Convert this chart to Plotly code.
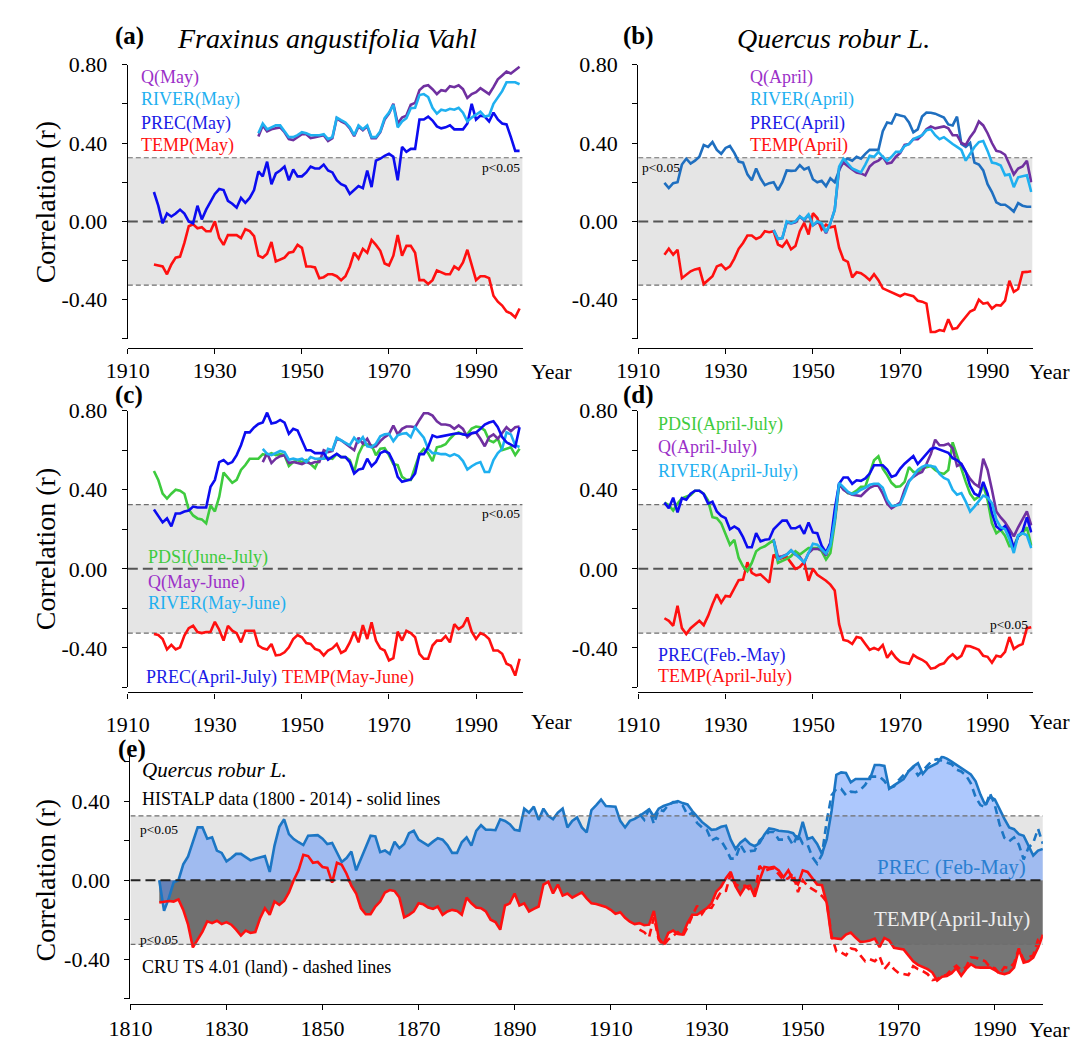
import numpy as np
import plotly.graph_objects as go

# ---------------------------------------------------------------------------
# Moving correlations between ring-width chronologies and climate series
# ---------------------------------------------------------------------------
SIG = 0.325  # |r| threshold for p<0.05

# (a) Fraxinus angustifolia Vahl
years_a = np.arange(1916, 2001)
years_a_flow = np.arange(1940, 2001)
a_prec = [0.15, 0.08, -0.01, 0.04, 0.025, 0.04, 0.06, 0.04, 0.0, -0.01,
          0.08, 0.01, 0.06, 0.10, 0.14, 0.165, 0.16, 0.105, 0.09, 0.07,
          0.12, 0.095, 0.12, 0.16, 0.255, 0.23, 0.305, 0.19, 0.245, 0.26,
          0.28, 0.21, 0.265, 0.23, 0.23, 0.25, 0.28, 0.27, 0.27, 0.29,
          0.26, 0.25, 0.21, 0.19, 0.18, 0.14, 0.16, 0.18, 0.17, 0.26,
          0.175, 0.31, 0.32, 0.335, 0.345, 0.33, 0.21, 0.38, 0.355, 0.37,
          0.37, 0.52, 0.52, 0.535, 0.515, 0.485, 0.475, 0.48, 0.49, 0.47,
          0.47, 0.47, 0.50, 0.60, 0.52, 0.54, 0.535, 0.51, 0.555, 0.52,
          0.50, 0.495, 0.43, 0.36, 0.36]
a_temp = [-0.22, -0.225, -0.23, -0.27, -0.22, -0.185, -0.18, -0.11, -0.025, -0.015,
          -0.035, -0.03, -0.05, -0.05, 0.0, -0.085, -0.12, -0.07, -0.07, -0.07,
          -0.085, -0.04, -0.05, -0.075, -0.175, -0.185, -0.165, -0.105, -0.205, -0.195,
          -0.185, -0.16, -0.155, -0.12, -0.135, -0.23, -0.23, -0.235, -0.29, -0.285,
          -0.27, -0.27, -0.28, -0.30, -0.28, -0.23, -0.16, -0.19, -0.14, -0.16,
          -0.095, -0.12, -0.15, -0.215, -0.225, -0.175, -0.07, -0.175, -0.125, -0.125,
          -0.16, -0.30, -0.30, -0.32, -0.30, -0.25, -0.26, -0.27, -0.27, -0.23,
          -0.245, -0.21, -0.145, -0.22, -0.30, -0.28, -0.28, -0.29, -0.38, -0.41,
          -0.43, -0.46, -0.47, -0.49, -0.445]
a_river = [0.45, 0.50, 0.47, 0.48, 0.49, 0.49, 0.46, 0.43, 0.43, 0.44,
           0.455, 0.45, 0.44, 0.44, 0.44, 0.445, 0.42, 0.43, 0.53, 0.517,
           0.505, 0.48, 0.44, 0.49, 0.47, 0.49, 0.43, 0.43, 0.46, 0.527,
           0.555, 0.595, 0.48, 0.51, 0.527, 0.578, 0.58, 0.645, 0.65, 0.635,
           0.58, 0.55, 0.57, 0.565, 0.575, 0.57, 0.58, 0.555, 0.51, 0.53,
           0.547, 0.56, 0.535, 0.54, 0.60, 0.63, 0.665, 0.71, 0.71, 0.71,
           0.70]
a_q = [0.433, 0.49, 0.46, 0.47, 0.475, 0.48, 0.455, 0.42, 0.415, 0.43,
       0.445, 0.445, 0.425, 0.43, 0.435, 0.44, 0.41, 0.425, 0.527, 0.51,
       0.50, 0.475, 0.435, 0.485, 0.465, 0.485, 0.425, 0.425, 0.455, 0.52,
       0.55, 0.60, 0.50, 0.53, 0.54, 0.595, 0.605, 0.67, 0.69, 0.695,
       0.675, 0.65, 0.67, 0.665, 0.69, 0.685, 0.695, 0.675, 0.63, 0.65,
       0.66, 0.68, 0.665, 0.65, 0.685, 0.725, 0.745, 0.765, 0.755, 0.775,
       0.79]

# (b) Quercus robur L., April
years_b = np.arange(1916, 2001)
years_b_flow = np.arange(1941, 2001)
b_prec = [0.197, 0.17, 0.195, 0.20, 0.29, 0.32, 0.295, 0.31, 0.33, 0.39,
          0.38, 0.405, 0.365, 0.345, 0.375, 0.385, 0.35, 0.305, 0.30, 0.24,
          0.21, 0.27, 0.22, 0.185, 0.195, 0.20, 0.16, 0.20, 0.26, 0.258,
          0.26, 0.287, 0.265, 0.275, 0.215, 0.20, 0.207, 0.18, 0.22, 0.20,
          0.26, 0.31, 0.32, 0.31, 0.33, 0.32, 0.345, 0.365, 0.365, 0.365,
          0.46, 0.505, 0.50, 0.547, 0.54, 0.535, 0.505, 0.455, 0.47, 0.535,
          0.556, 0.555, 0.55, 0.54, 0.53, 0.495, 0.49, 0.535, 0.395, 0.38,
          0.40, 0.30, 0.29, 0.26, 0.19, 0.15, 0.097, 0.085, 0.085, 0.07,
          0.05, 0.093, 0.08, 0.075, 0.075]
b_temp = [-0.17, -0.14, -0.17, -0.145, -0.29, -0.27, -0.255, -0.245, -0.24, -0.32,
          -0.30, -0.28, -0.23, -0.22, -0.245, -0.23, -0.19, -0.14, -0.11, -0.072,
          -0.072, -0.09, -0.08, -0.05, -0.055, -0.05, -0.118, -0.13, -0.10, -0.143,
          -0.126, -0.05, -0.008, -0.067, 0.042, 0.017, -0.042, -0.017, -0.03, -0.025,
          -0.135, -0.195, -0.207, -0.286, -0.26, -0.265, -0.28, -0.30, -0.27, -0.30,
          -0.342, -0.353, -0.362, -0.375, -0.382, -0.37, -0.375, -0.382, -0.405, -0.41,
          -0.42, -0.565, -0.565, -0.555, -0.56, -0.50, -0.55, -0.545, -0.515, -0.485,
          -0.46, -0.45, -0.40, -0.42, -0.415, -0.445, -0.427, -0.43, -0.405, -0.303,
          -0.36, -0.345, -0.26, -0.258, -0.255]
b_river = [-0.045, -0.09, -0.085, 0.0, -0.01, 0.0, 0.025, 0.01, 0.035, -0.02,
           0.0, -0.01, -0.055, -0.01, 0.06, 0.28, 0.32, 0.295, 0.27, 0.26,
           0.25, 0.29, 0.335, 0.33, 0.355, 0.33, 0.31, 0.33, 0.355, 0.355,
           0.385, 0.395, 0.42, 0.43, 0.44, 0.465, 0.47, 0.44, 0.42, 0.43,
           0.41, 0.395, 0.38, 0.365, 0.31, 0.345, 0.38, 0.405, 0.41, 0.36,
           0.30, 0.295, 0.285, 0.235, 0.24, 0.175, 0.225, 0.23, 0.235, 0.15]
b_q = [-0.045, -0.09, -0.085, -0.005, -0.01, -0.005, 0.025, 0.005, 0.035, -0.02,
       -0.005, -0.015, -0.06, -0.01, 0.06, 0.27, 0.30, 0.28, 0.265, 0.25,
       0.245, 0.235, 0.28, 0.30, 0.31, 0.33, 0.295, 0.30, 0.33, 0.35,
       0.39, 0.395, 0.42, 0.42, 0.44, 0.47, 0.485, 0.475, 0.48, 0.485,
       0.475, 0.44, 0.44, 0.40, 0.39, 0.43, 0.46, 0.51, 0.49, 0.45,
       0.40, 0.36, 0.355, 0.34, 0.29, 0.24, 0.27, 0.28, 0.31, 0.20]

# (c) Fraxinus angustifolia Vahl, seasonal windows
years_c = np.arange(1916, 2001)
years_c_flow = np.arange(1941, 2001)
c_pdsi = [0.495, 0.45, 0.38, 0.355, 0.38, 0.40, 0.395, 0.38, 0.30, 0.27,
          0.255, 0.25, 0.23, 0.32, 0.29, 0.365, 0.487, 0.46, 0.435, 0.45,
          0.50, 0.525, 0.557, 0.557, 0.557, 0.58, 0.575, 0.585, 0.575, 0.58,
          0.575, 0.52, 0.54, 0.55, 0.54, 0.55, 0.53, 0.51, 0.557, 0.557,
          0.562, 0.557, 0.58, 0.565, 0.565, 0.55, 0.49, 0.58, 0.625, 0.63,
          0.625, 0.575, 0.607, 0.61, 0.575, 0.53, 0.525, 0.465, 0.45, 0.45,
          0.515, 0.58, 0.607, 0.585, 0.545, 0.615, 0.62, 0.63, 0.658, 0.68,
          0.69, 0.68, 0.68, 0.71, 0.72, 0.716, 0.70, 0.65, 0.64, 0.658,
          0.60, 0.607, 0.615, 0.575, 0.607]
c_prec = [0.30, 0.27, 0.235, 0.255, 0.215, 0.28, 0.28, 0.29, 0.295, 0.315,
          0.31, 0.31, 0.31, 0.415, 0.45, 0.54, 0.55, 0.53, 0.54, 0.575,
          0.625, 0.69, 0.69, 0.715, 0.733, 0.74, 0.79, 0.735, 0.74, 0.753,
          0.74, 0.683, 0.708, 0.70, 0.645, 0.60, 0.60, 0.585, 0.585, 0.585,
          0.552, 0.565, 0.582, 0.565, 0.565, 0.54, 0.482, 0.502, 0.507, 0.557,
          0.519, 0.54, 0.585, 0.596, 0.585, 0.54, 0.465, 0.44, 0.448, 0.452,
          0.482, 0.58, 0.58, 0.616, 0.675, 0.666, 0.67, 0.675, 0.68, 0.683,
          0.686, 0.68, 0.675, 0.686, 0.69, 0.708, 0.73, 0.74, 0.746, 0.716,
          0.666, 0.64, 0.63, 0.616, 0.716]
c_temp = [-0.33, -0.335, -0.355, -0.408, -0.385, -0.408, -0.397, -0.338, -0.30, -0.288,
          -0.32, -0.325, -0.32, -0.318, -0.268, -0.308, -0.363, -0.288, -0.313, -0.325,
          -0.372, -0.313, -0.313, -0.313, -0.388, -0.402, -0.408, -0.38, -0.438, -0.435,
          -0.422, -0.397, -0.355, -0.335, -0.346, -0.375, -0.38, -0.405, -0.413, -0.438,
          -0.413, -0.402, -0.38, -0.425, -0.413, -0.372, -0.318, -0.372, -0.285, -0.355,
          -0.271, -0.363, -0.402, -0.413, -0.463, -0.452, -0.318, -0.363, -0.313, -0.325,
          -0.346, -0.43, -0.455, -0.455, -0.388, -0.363, -0.363, -0.34, -0.372, -0.28,
          -0.305, -0.29, -0.246, -0.318, -0.355, -0.325, -0.335, -0.355, -0.413, -0.413,
          -0.43, -0.48, -0.49, -0.54, -0.455]
c_q = [0.54, 0.585, 0.535, 0.557, 0.57, 0.575, 0.535, 0.54, 0.535, 0.53,
       0.54, 0.532, 0.54, 0.54, 0.60, 0.59, 0.596, 0.658, 0.65, 0.633,
       0.62, 0.60, 0.663, 0.633, 0.658, 0.616, 0.62, 0.646, 0.666, 0.68,
       0.725, 0.68, 0.708, 0.72, 0.72, 0.716, 0.753, 0.787, 0.787, 0.775,
       0.746, 0.73, 0.73, 0.725, 0.708, 0.725, 0.708, 0.666, 0.686, 0.69,
       0.658, 0.62, 0.666, 0.68, 0.658, 0.686, 0.716, 0.696, 0.716, 0.72]
c_river = [0.607, 0.582, 0.575, 0.585, 0.596, 0.59, 0.552, 0.557, 0.552, 0.557,
           0.54, 0.565, 0.557, 0.557, 0.557, 0.607, 0.60, 0.663, 0.65, 0.64,
           0.625, 0.663, 0.64, 0.666, 0.62, 0.616, 0.633, 0.67, 0.68, 0.683,
           0.646, 0.675, 0.683, 0.686, 0.666, 0.716, 0.69, 0.663, 0.607, 0.585,
           0.585, 0.58, 0.58, 0.57, 0.58, 0.57, 0.545, 0.502, 0.519, 0.532,
           0.54, 0.49, 0.49, 0.55, 0.585, 0.607, 0.69, 0.68, 0.625, 0.616]

# (d) Quercus robur L., seasonal windows (CRU TS 4.01)
years_d = np.arange(1916, 2001)
years_d_flow = np.arange(1941, 2001)
d_pdsi = [0.335, 0.323, 0.295, 0.33, 0.357, 0.365, 0.373, 0.395, 0.395, 0.38,
          0.345, 0.261, 0.256, 0.23, 0.18, 0.122, 0.147, 0.055, 0.013, -0.012,
          0.03, 0.089, 0.105, 0.114, 0.13, 0.144, 0.03, 0.038, 0.05, 0.064,
          0.089, 0.072, 0.089, 0.105, 0.105, 0.105, 0.089, 0.047, 0.08, 0.23,
          0.423, 0.407, 0.382, 0.382, 0.395, 0.415, 0.415, 0.482, 0.549, 0.569,
          0.507, 0.474, 0.435, 0.415, 0.418, 0.44, 0.515, 0.49, 0.49, 0.507,
          0.512, 0.52, 0.50, 0.486, 0.48, 0.50, 0.64, 0.57, 0.50, 0.44,
          0.38, 0.35, 0.365, 0.425, 0.348, 0.23, 0.18, 0.197, 0.167, 0.114,
          0.114, 0.164, 0.18, 0.21, 0.117]
d_prec = [0.335, 0.306, 0.36, 0.285, 0.357, 0.35, 0.38, 0.395, 0.395, 0.378,
          0.33, 0.34, 0.29, 0.268, 0.256, 0.20, 0.214, 0.20, 0.16, 0.109,
          0.109, 0.18, 0.139, 0.147, 0.15, 0.20, 0.222, 0.244, 0.244, 0.205,
          0.205, 0.217, 0.177, 0.234, 0.184, 0.18, 0.117, 0.083, 0.13, 0.30,
          0.43, 0.462, 0.462, 0.43, 0.448, 0.445, 0.457, 0.482, 0.524, 0.524,
          0.524, 0.502, 0.465, 0.474, 0.507, 0.532, 0.552, 0.57, 0.53, 0.557,
          0.58, 0.606, 0.612, 0.603, 0.593, 0.587, 0.56, 0.55, 0.53, 0.49,
          0.42, 0.38, 0.369, 0.44, 0.38, 0.281, 0.214, 0.197, 0.217, 0.18,
          0.105, 0.164, 0.189, 0.26, 0.184]
d_temp = [-0.25, -0.263, -0.288, -0.187, -0.30, -0.33, -0.30, -0.28, -0.263, -0.285,
          -0.238, -0.179, -0.129, -0.171, -0.137, -0.14, -0.095, -0.057, -0.054, 0.033,
          -0.02, -0.033, -0.028, -0.05, -0.07, 0.072, 0.047, 0.055, 0.06, 0.03,
          0.0, 0.01, 0.035, -0.06, 0.0, -0.03, -0.045, -0.06, -0.08, -0.11,
          -0.28, -0.36, -0.365, -0.38, -0.345, -0.35, -0.38, -0.41, -0.40, -0.41,
          -0.385, -0.45, -0.42, -0.45, -0.47, -0.475, -0.48, -0.435, -0.45, -0.46,
          -0.475, -0.505, -0.50, -0.485, -0.478, -0.45, -0.432, -0.455, -0.44, -0.39,
          -0.392, -0.40, -0.41, -0.44, -0.445, -0.475, -0.44, -0.445, -0.42, -0.345,
          -0.405, -0.39, -0.38, -0.30, -0.295]
d_q = [0.147, 0.06, 0.064, 0.072, 0.094, 0.072, 0.06, 0.03, 0.08, 0.10,
       0.10, 0.097, 0.067, 0.13, 0.248,
       0.43, 0.40, 0.385, 0.375, 0.37, 0.368, 0.39, 0.41, 0.42, 0.42,
       0.38, 0.33, 0.306, 0.32, 0.335, 0.40, 0.445, 0.465, 0.48, 0.49,
       0.53, 0.58, 0.653, 0.625, 0.625, 0.633, 0.61, 0.52, 0.53, 0.49,
       0.455, 0.43, 0.415, 0.557, 0.50, 0.40, 0.29, 0.26, 0.235, 0.20,
       0.164, 0.21, 0.25, 0.29, 0.22]
d_river = [0.147, 0.047, 0.06, 0.072, 0.094, 0.072, 0.05, 0.033, 0.08, 0.127,
           0.122, 0.097, 0.077, 0.117, 0.248,
           0.435, 0.41, 0.39, 0.378, 0.385, 0.40, 0.41, 0.425, 0.43, 0.43,
           0.41, 0.35, 0.318, 0.32, 0.325, 0.38, 0.44, 0.47, 0.50, 0.515,
           0.525, 0.52, 0.515, 0.48, 0.46, 0.45, 0.40, 0.375, 0.383, 0.34,
           0.29, 0.315, 0.34, 0.37, 0.36, 0.333, 0.25, 0.21, 0.20, 0.15,
           0.08, 0.17, 0.18, 0.17, 0.105]

# (e) Quercus robur L., HISTALP (solid) vs CRU TS 4.01 (dashed = panel d series)
years_e = np.arange(1816, 2001)
e_prec = [0.0, -0.155, -0.09, -0.01, 0.0, 0.08, 0.12, 0.195, 0.267, 0.267,
          0.21, 0.217, 0.15, 0.138, 0.095, 0.112, 0.133, 0.133, 0.117, 0.10,
          0.108, 0.117, 0.122, 0.042, 0.175, 0.27, 0.308, 0.233, 0.208, 0.192,
          0.178, 0.225, 0.228, 0.228, 0.21, 0.183, 0.188, 0.142, 0.092, 0.112,
          0.145, 0.05, 0.112, 0.167, 0.225, 0.222, 0.142, 0.15, 0.133, 0.195,
          0.162, 0.183, 0.238, 0.25, 0.205, 0.192, 0.175, 0.195, 0.212, 0.205,
          0.178, 0.138, 0.138, 0.192, 0.217, 0.175, 0.25, 0.278, 0.255, 0.255,
          0.253, 0.308, 0.30, 0.283, 0.255, 0.25, 0.362, 0.342, 0.372, 0.305,
          0.362, 0.325, 0.308, 0.342, 0.362,
          0.267, 0.30, 0.317, 0.267, 0.242, 0.355, 0.38, 0.408, 0.375, 0.375,
          0.372, 0.30, 0.267, 0.30, 0.31, 0.325, 0.342, 0.358, 0.322, 0.362,
          0.375, 0.383, 0.39, 0.40, 0.39, 0.383, 0.35, 0.32, 0.295, 0.275,
          0.255, 0.258, 0.27, 0.275, 0.205, 0.158, 0.19, 0.208, 0.183, 0.172,
          0.188, 0.23, 0.262, 0.258, 0.25, 0.248, 0.245, 0.238, 0.205, 0.295,
          0.208, 0.217, 0.183, 0.133, 0.208, 0.35, 0.533, 0.545, 0.542, 0.495,
          0.512, 0.512, 0.512, 0.512, 0.583, 0.583, 0.578, 0.462, 0.48, 0.495,
          0.512, 0.55, 0.575, 0.592, 0.538, 0.567, 0.58, 0.592, 0.625, 0.615,
          0.60, 0.583, 0.567, 0.55, 0.535, 0.50, 0.433, 0.38, 0.422, 0.408,
          0.358, 0.31, 0.267, 0.258, 0.233, 0.225, 0.175, 0.125, 0.15, 0.158]
e_temp = [-0.113, -0.108, -0.105, -0.108, -0.097, -0.15, -0.225, -0.34, -0.30, -0.26,
          -0.208, -0.217, -0.205, -0.222, -0.212, -0.225, -0.25, -0.28, -0.255, -0.267,
          -0.262, -0.192, -0.142, -0.175, -0.108, -0.125, -0.105, -0.062, 0.0, 0.05,
          0.128, 0.122, 0.088, 0.092, 0.067, 0.062, -0.012, 0.088, 0.078, 0.033,
          -0.028, -0.067, -0.142, -0.172, -0.172, -0.133, -0.108, -0.062, -0.05, -0.055,
          -0.088, -0.188, -0.175, -0.158, -0.117, -0.122, -0.138, -0.145, -0.133, -0.175,
          -0.158, -0.15, -0.155, -0.175, -0.088, -0.117, -0.138, -0.142, -0.158, -0.20,
          -0.212, -0.25, -0.128, -0.117, -0.067, -0.128, -0.117, -0.158, -0.145, -0.133,
          -0.022, -0.008, -0.067, -0.022, -0.078,
          -0.067, -0.088, -0.075, -0.062, -0.092, -0.117, -0.12, -0.128, -0.135, -0.15,
          -0.17, -0.162, -0.19, -0.21, -0.222, -0.217, -0.228, -0.225, -0.155, -0.292,
          -0.325, -0.267, -0.255, -0.272, -0.275, -0.217, -0.175, -0.175, -0.16, -0.142,
          -0.117, -0.058, -0.033, 0.01, 0.042, -0.03, -0.072, -0.033, -0.028, -0.083,
          0.0, 0.067, 0.063, 0.067, 0.05, 0.015, 0.05, 0.0, -0.022, 0.05,
          0.042, 0.008, -0.022, -0.025, -0.117, -0.292, -0.295, -0.298, -0.275, -0.265,
          -0.29, -0.312, -0.31, -0.305, -0.295, -0.338, -0.292, -0.305, -0.342, -0.345,
          -0.35, -0.38, -0.41, -0.428, -0.44, -0.45, -0.467, -0.508, -0.488, -0.485,
          -0.47, -0.445, -0.483, -0.45, -0.425, -0.44, -0.442, -0.442, -0.442, -0.455,
          -0.47, -0.475, -0.467, -0.442, -0.35, -0.417, -0.41, -0.392, -0.342, -0.275]

for name, yrs, vals in [("a_prec", years_a, a_prec), ("a_temp", years_a, a_temp),
                        ("a_river", years_a_flow, a_river), ("a_q", years_a_flow, a_q),
                        ("b_prec", years_b, b_prec), ("b_temp", years_b, b_temp),
                        ("b_river", years_b_flow, b_river), ("b_q", years_b_flow, b_q),
                        ("c_pdsi", years_c, c_pdsi), ("c_prec", years_c, c_prec),
                        ("c_temp", years_c, c_temp), ("c_q", years_c_flow, c_q),
                        ("c_river", years_c_flow, c_river),
                        ("d_pdsi", years_d, d_pdsi), ("d_prec", years_d, d_prec),
                        ("d_temp", years_d, d_temp), ("d_q", years_d_flow, d_q),
                        ("d_river", years_d_flow, d_river),
                        ("e_prec", years_e, e_prec), ("e_temp", years_e, e_temp)]:
    if len(yrs) != len(vals):
        raise ValueError(f"{name}: {len(vals)} values for {len(yrs)} years")

# ---------------------------------------------------------------------------
# Styling
# ---------------------------------------------------------------------------
W, H = 1084, 1044
FONT = "Liberation Serif, Times New Roman, serif"
C_Q, C_Q_TXT = "#7030a0", "#9b30c8"
C_RIVER = "#1fb0f0"
C_PREC, C_PREC_TXT = "#0c0cf0", "#1a1ae6"
C_PREC_B = "#1f6fc0"
C_TEMP = "#ff1010"
C_PDSI = "#3ecb3e"
C_E_PREC = "#1c76c4"
LW = 2.6


def px(x):
    return x / W


def py(y):
    return 1 - y / H


# panel geometry in pixels: x-domain, y-domain (top, bottom), x-axis line y
panels = {
    "a": dict(ax=("x", "y"), xd=(108, 511), yd=(53.3, 330.7), xline=340,
              xr=(1910, 2000.7), yr=(-0.6, 0.8), standoff=-3),
    "b": dict(ax=("x2", "y2"), xd=(629, 1031.5), yd=(53.3, 330.7), xline=340,
              xr=(1910, 2000.3), yr=(-0.6, 0.8), standoff=-3),
    "c": dict(ax=("x3", "y3"), xd=(108, 511), yd=(403.3, 683.3), xline=688.3,
              xr=(1910, 2000.7), yr=(-0.6, 0.8), standoff=7),
    "d": dict(ax=("x4", "y4"), xd=(629, 1031.5), yd=(403.3, 683.3), xline=688.3,
              xr=(1910, 2000.3), yr=(-0.6, 0.8), standoff=7),
    "e": dict(ax=("x5", "y5"), xd=(110.7, 1042), yd=(752.3, 998.3), xline=1003.3,
              xr=(1810, 2000), yr=(-0.6, 0.63), standoff=0),
}

fig = go.Figure()


def add_line(xs, ys, panel, color, width=LW, dash=None):
    xa, ya = panels[panel]["ax"]
    fig.add_trace(go.Scatter(x=xs, y=ys, mode="lines", xaxis=xa, yaxis=ya,
                             line=dict(color=color, width=width, dash=dash),
                             showlegend=False, hoverinfo="skip"))


# (a)
add_line(years_a, a_temp, "a", C_TEMP)
add_line(years_a, a_prec, "a", C_PREC)
add_line(years_a_flow, a_q, "a", C_Q)
add_line(years_a_flow, a_river, "a", C_RIVER)
# (b)
add_line(years_b, b_temp, "b", C_TEMP)
add_line(years_b, b_prec, "b", C_PREC_B)
add_line(years_b_flow, b_q, "b", C_Q)
add_line(years_b_flow, b_river, "b", C_RIVER)
# (c)
add_line(years_c, c_temp, "c", C_TEMP)
add_line(years_c, c_pdsi, "c", C_PDSI)
add_line(years_c_flow, c_q, "c", C_Q)
add_line(years_c_flow, c_river, "c", C_RIVER)
add_line(years_c, c_prec, "c", C_PREC)
# (d)
add_line(years_d, d_temp, "d", C_TEMP)
add_line(years_d, d_pdsi, "d", C_PDSI)
add_line(years_d_flow, d_q, "d", C_Q)
add_line(years_d, d_prec, "d", C_PREC)
add_line(years_d_flow, d_river, "d", C_RIVER)

# (e) filled areas, then CRU (dashed) and HISTALP (solid) lines
xa5, ya5 = panels["e"]["ax"]
fig.add_trace(go.Scatter(x=years_e, y=np.minimum(np.array(e_temp), 0.0), mode="lines",
                         xaxis=xa5, yaxis=ya5, line=dict(width=0), fill="tozeroy",
                         fillcolor="rgba(80,80,80,0.78)", showlegend=False, hoverinfo="skip"))
fig.add_trace(go.Scatter(x=years_e, y=e_prec, mode="lines", xaxis=xa5, yaxis=ya5,
                         line=dict(width=0), fill="tozeroy",
                         fillcolor="rgba(92,145,252,0.5)", showlegend=False, hoverinfo="skip"))
add_line(years_d, d_prec, "e", C_E_PREC, dash="8px,5px")
add_line(years_d, d_temp, "e", C_TEMP, dash="8px,5px")
add_line(years_e, e_prec, "e", C_E_PREC)
add_line(years_e, e_temp, "e", C_TEMP)

# ---------------------------------------------------------------------------
# Axes
# ---------------------------------------------------------------------------
layout_axes = {}
for key, p in panels.items():
    xa, ya = p["ax"]
    xname = "xaxis" + xa[1:]
    yname = "yaxis" + ya[1:]
    if key == "e":
        xt = list(range(1810, 2000, 20))
        yt = [-0.6, -0.4, -0.2, 0.0, 0.2, 0.4, 0.6]
        ytt = ["", "-0.40", "", "0.00", "", "0.40", ""]
    else:
        xt = list(range(1910, 2000, 20))
        yt = [-0.6, -0.4, -0.2, 0.0, 0.2, 0.4, 0.6, 0.8]
        ytt = ["", "-0.40", "", "0.00", "", "0.40", "", "0.80"]
    layout_axes[xname] = dict(
        domain=[px(p["xd"][0]), px(p["xd"][1])], range=list(p["xr"]),
        anchor="free", position=py(p["xline"]),
        showline=True, linecolor="black", linewidth=1.3,
        ticks="outside", ticklen=5, tickwidth=1.2, tickcolor="black",
        tickvals=xt, ticktext=[str(v) for v in xt],
        ticklabelstandoff=p["standoff"],
        tickfont=dict(family=FONT, size=22, color="black"),
        showgrid=False, zeroline=False, fixedrange=True)
    layout_axes[yname] = dict(
        domain=[py(p["yd"][1]), py(p["yd"][0])], range=list(p["yr"]),
        anchor=xa, showline=True, linecolor="black", linewidth=1.3,
        ticks="outside", ticklen=5, tickwidth=1.2, tickcolor="black",
        tickvals=yt, ticktext=ytt, ticklabelstandoff=10,
        tickfont=dict(family=FONT, size=22, color="black"),
        showgrid=False, zeroline=False, fixedrange=True)

# ---------------------------------------------------------------------------
# Significance band, threshold and zero lines
# ---------------------------------------------------------------------------
shapes = []
for key, p in panels.items():
    xa, ya = p["ax"]
    x0, x1 = p["xr"]
    above = "above" if key == "e" else "below"
    shapes.append(dict(type="rect", xref=xa, yref=ya, x0=x0, x1=x1, y0=-SIG, y1=SIG,
                       fillcolor="#e5e5e5", line=dict(width=0), layer="below"))
    for lvl in (SIG, -SIG):
        shapes.append(dict(type="line", xref=xa, yref=ya, x0=x0, x1=x1, y0=lvl, y1=lvl,
                           line=dict(color="#6e6e6e", width=1.2, dash="5px,3px"),
                           layer=above))
    shapes.append(dict(type="line", xref=xa, yref=ya, x0=x0, x1=x1, y0=0, y1=0,
                       line=dict(color="#222222" if key == "e" else "#555555",
                                 width=2, dash="10px,5px"),
                       layer=above))

# ---------------------------------------------------------------------------
# Text
# ---------------------------------------------------------------------------
ann = []


def text(x, y, s, size=18, color="black", xanchor="left", **kw):
    ann.append(dict(x=px(x), y=py(y), xref="paper", yref="paper", text=s,
                    showarrow=False, xanchor=xanchor, yanchor="middle",
                    font=dict(family=FONT, size=size, color=color), **kw))


# panel letters and titles
text(93, 24, "<b>(a)</b>", size=25)
text(311, 27, "<i>Fraxinus angustifolia Vahl</i>", size=28, xanchor="center")
text(611, 24, "<b>(b)</b>", size=25)
text(828, 27, "<i>Quercus robur L.</i>", size=28, xanchor="center")
text(93, 387, "<b>(c)</b>", size=25)
text(611, 387, "<b>(d)</b>", size=25)
text(96, 746, "<b>(e)</b>", size=25)

# y-axis titles
for yc in (192, 543, 878):
    text(24, yc, "Correlation (r)", size=28, xanchor="center", textangle=-90)

# "Year" beside each x-axis
for xy in ((518, 364), (1026, 364), (518, 718), (1026, 718), (1026, 1029)):
    text(xy[0], xy[1], "Year", size=22)

# (a) labels
text(119, 66, "Q(May)", color=C_Q_TXT)
text(119, 89, "RIVER(May)", color=C_RIVER)
text(119, 113, "PREC(May)", color=C_PREC_TXT)
text(119, 135, "TEMP(May)", color=C_TEMP)
text(510, 157, "p&lt;0.05", size=13.5, xanchor="right")
# (b) labels
text(741, 66, "Q(April)", color=C_Q_TXT)
text(741, 89, "RIVER(April)", color=C_RIVER)
text(741, 113, "PREC(April)", color=C_PREC_TXT)
text(741, 135, "TEMP(April)", color=C_TEMP)
text(631, 157, "p&lt;0.05", size=13.5)
# (c) labels
text(127, 552, "PDSI(June-July)", color=C_PDSI)
text(127, 577, "Q(May-June)", color=C_Q_TXT)
text(127, 598, "RIVER(May-June)", color=C_RIVER)
text(125, 673, "PREC(April-July)", color=C_PREC_TXT)
text(263, 673, "TEMP(May-June)", color=C_TEMP)
text(510, 507, "p&lt;0.05", size=13.5, xanchor="right")
# (d) labels
text(647, 417, "PDSI(April-July)", color=C_PDSI)
text(647, 441, "Q(April-July)", color=C_Q_TXT)
text(647, 465, "RIVER(April-July)", color=C_RIVER)
text(647, 651, "PREC(Feb.-May)", color=C_PREC_TXT)
text(647, 672, "TEMP(April-July)", color=C_TEMP)
text(1029, 620, "p&lt;0.05", size=13.5, xanchor="right")
# (e) labels
text(120, 767, "<i>Quercus robur L.</i>", size=21)
text(120, 797, "HISTALP data (1800 - 2014) - solid lines", size=18)
text(120, 967, "CRU TS 4.01 (land) - dashed lines", size=18)
text(118, 827, "p&lt;0.05", size=13.5)
text(118, 938, "p&lt;0.05", size=13.5)
text(1027, 865, "PREC (Feb-May)", size=21, color="#2a7fd0", xanchor="right")
text(1031, 918, "TEMP(April-July)", size=21, color="#ededed", xanchor="right")

fig.update_layout(
    width=W, height=H, margin=dict(l=0, r=0, t=0, b=0),
    paper_bgcolor="white", plot_bgcolor="white",
    font=dict(family=FONT, color="black"),
    shapes=shapes, annotations=ann, showlegend=False,
    **layout_axes)

fig.write_html("out.html")
